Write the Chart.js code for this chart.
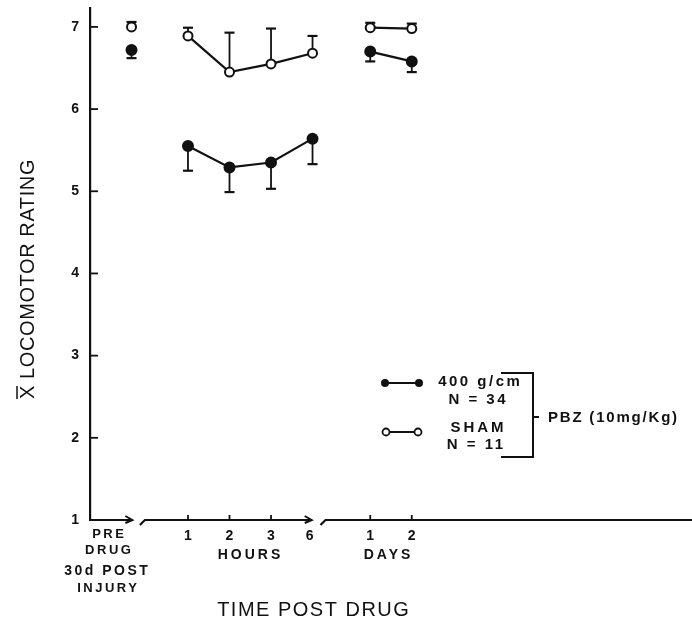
<!DOCTYPE html>
<html>
<head>
<meta charset="utf-8">
<script src="https://cdn.jsdelivr.net/npm/chart.js@4.4.1/dist/chart.umd.min.js"></script>
<style>
  body { margin: 0; background: #fff; }
  canvas { display: block; }
</style>
</head>
<body>
<canvas id="chart" width="692" height="621"></canvas>
<script>
// time points: pre drug, 1/2/3/6 hours, 1/2 days (slot = place on the broken axis)
const timePoints = ["PRE", "1h", "2h", "3h", "6h", "1d", "2d"];
const slot = [1, 2.36, 3.36, 4.36, 5.36, 6.75, 7.75];
const segments = [[0], [1, 2, 3, 4], [5, 6]];

// mean locomotor rating
const sham = [7.0, 6.89, 6.45, 6.55, 6.68, 6.99, 6.98];
const shamErr = [0.06, 0.1, 0.48, 0.43, 0.21, 0.06, 0.06];
const injured = [6.72, 5.55, 5.29, 5.35, 5.64, 6.70, 6.58];
const injuredErr = [0.1, 0.3, 0.3, 0.32, 0.31, 0.12, 0.13];

const yTicks = [1, 2, 3, 4, 5, 6, 7];
const hourTicks = ["1", "2", "3", "6"];
const dayTicks = ["1", "2"];

const INK = "#111";

function makeSets(values, errs, filled, dir) {
  return segments.map(seg => ({
    data: seg.map(i => ({ x: slot[i], y: values[i], err: errs[i] })),
    showLine: true,
    borderColor: INK,
    borderWidth: 2.2,
    pointRadius: filled ? 5 : 4.5,
    pointBorderWidth: 2,
    pointBorderColor: INK,
    pointBackgroundColor: filled ? INK : "#fff",
    errDir: dir
  }));
}

function text(ctx, str, x, y, font, spacing, align) {
  ctx.save();
  ctx.font = font;
  ctx.letterSpacing = (spacing || 0) + "px";
  ctx.textAlign = "left";
  ctx.textBaseline = "middle";
  let w = ctx.measureText(str).width - (spacing || 0);
  let sx = x;
  if (align === "center") sx = x - w / 2;
  if (align === "right") sx = x - w;
  ctx.fillStyle = INK;
  ctx.fillText(str, sx, y);
  ctx.restore();
}

function line(ctx, pts, width) {
  ctx.beginPath();
  ctx.moveTo(pts[0][0], pts[0][1]);
  for (let i = 1; i < pts.length; i++) ctx.lineTo(pts[i][0], pts[i][1]);
  ctx.lineWidth = width || 2;
  ctx.strokeStyle = INK;
  ctx.stroke();
}

const errorBars = {
  id: "errorBars",
  beforeDatasetsDraw(chart) {
    const ctx = chart.ctx;
    const ys = chart.scales.y, xs = chart.scales.x;
    chart.data.datasets.forEach(ds => {
      ds.data.forEach(p => {
        const px = xs.getPixelForValue(p.x);
        const py = ys.getPixelForValue(p.y);
        const pe = ys.getPixelForValue(p.y + ds.errDir * p.err);
        line(ctx, [[px, py], [px, pe]], 1.8);
        line(ctx, [[px - 5, pe], [px + 5, pe]], 2.2);
      });
    });
  }
};

const decor = {
  id: "decor",
  afterDraw(chart) {
    const ctx = chart.ctx;
    const xs = chart.scales.x, ys = chart.scales.y;
    const area = chart.chartArea;
    const y0 = area.bottom;
    const X = v => xs.getPixelForValue(v);

    // inward ticks on y axis
    yTicks.slice(1).forEach(v => {
      const py = ys.getPixelForValue(v);
      line(ctx, [[area.left, py], [area.left + 8, py]], 1.8);
    });

    // broken x axis with arrows
    const arrow = x => line(ctx, [[x - 7, y0 - 4], [x, y0], [x - 7, y0 + 3]], 2);
    line(ctx, [[area.left - 1, y0], [X(1.02), y0]], 2.2);
    arrow(X(1.02));
    line(ctx, [[X(1.25) - 2, y0 + 5], [X(1.25) + 3, y0], [X(5.34), y0]], 2.2);
    arrow(X(5.34));
    line(ctx, [[X(5.6) - 2, y0 + 5], [X(5.6) + 3, y0], [area.right, y0]], 2.2);
    [1, 2, 3, 5, 6].forEach(i => line(ctx, [[X(slot[i]), y0], [X(slot[i]), y0 - 5]], 1.8));

    // x tick labels
    const bold = s => "bold " + s + "px 'Liberation Sans', Arial, sans-serif";
    hourTicks.forEach((t, i) => text(ctx, t, X(slot[i + 1]) - (i === 3 ? 3 : 0), 536, bold(14), 0, "center"));
    dayTicks.forEach((t, i) => text(ctx, t, X(slot[i + 5]), 536, bold(14), 0, "center"));
    text(ctx, "HOURS", 249, 555, bold(14), 3, "center");
    text(ctx, "DAYS", 387, 555, bold(14), 3, "center");
    text(ctx, "PRE", 108, 534, bold(13), 2.5, "center");
    text(ctx, "DRUG", 108, 550, bold(13), 2.5, "center");
    text(ctx, "30d POST", 106, 571, bold(14), 2.5, "center");
    text(ctx, "INJURY", 107, 588, bold(13), 2.5, "center");

    // axis titles
    text(ctx, "TIME POST DRUG", 313, 610, "20px 'Liberation Sans', Arial, sans-serif", 1.5, "center");
    ctx.save();
    ctx.translate(28, 279);
    ctx.rotate(-Math.PI / 2);
    const yt = "X LOCOMOTOR RATING";
    ctx.font = "20px 'Liberation Sans', Arial, sans-serif";
    ctx.letterSpacing = "0.6px";
    const w = ctx.measureText(yt).width;
    const wx = ctx.measureText("X").width;
    ctx.fillStyle = INK;
    ctx.textBaseline = "middle";
    ctx.fillText(yt, -w / 2, 0);
    line(ctx, [[-w / 2, -11], [-w / 2 + wx - 1, -11]], 1.5);
    ctx.restore();

    // legend
    line(ctx, [[385, 383], [419, 383]], 2);
    [385, 419].forEach(x => {
      ctx.beginPath(); ctx.arc(x, 383, 4, 0, Math.PI * 2); ctx.fillStyle = INK; ctx.fill();
    });
    line(ctx, [[386, 432], [418, 432]], 2);
    [386, 418].forEach(x => {
      ctx.beginPath(); ctx.arc(x, 432, 3.5, 0, Math.PI * 2);
      ctx.fillStyle = "#fff"; ctx.fill(); ctx.lineWidth = 1.8; ctx.strokeStyle = INK; ctx.stroke();
    });
    text(ctx, "400 g/cm", 479, 382, bold(15), 2.5, "center");
    text(ctx, "N = 34", 477, 400, bold(15), 2.5, "center");
    text(ctx, "SHAM", 477, 428, bold(15), 3, "center");
    text(ctx, "N = 11", 475, 445, bold(15), 2.5, "center");
    line(ctx, [[501, 373], [533, 373], [533, 457], [501, 457]], 2);
    line(ctx, [[533, 417], [539, 417]], 2);
    text(ctx, "PBZ (10mg/Kg)", 548, 418, bold(15), 1.8, "left");
  }
};

const datasets = [
  ...makeSets(injured, injuredErr, true, -1),
  ...makeSets(sham, shamErr, false, 1)
];

new Chart(document.getElementById("chart"), {
  type: "line",
  data: { datasets },
  plugins: [errorBars, decor],
  options: {
    responsive: false,
    animation: false,
    devicePixelRatio: 1,
    layout: { autoPadding: false, padding: { top: 8, bottom: 101, left: 0, right: 0 } },
    plugins: { legend: { display: false }, tooltip: { enabled: false } },
    scales: {
      x: { type: "linear", min: 0, max: 14.5, display: false },
      y: {
        min: 1,
        max: 7.23,
        afterBuildTicks: s => { s.ticks = yTicks.map(v => ({ value: v })); },
        afterFit: s => { s.width = 90; s.paddingTop = 0; s.paddingBottom = 0; },
        border: { display: true, color: INK, width: 2.2 },
        grid: { drawOnChartArea: false, drawTicks: false },
        ticks: {
          padding: 11,
          color: INK,
          font: { family: "'Liberation Sans', Arial, sans-serif", size: 14, weight: "bold" }
        }
      }
    }
  }
});
</script>
</body>
</html>
